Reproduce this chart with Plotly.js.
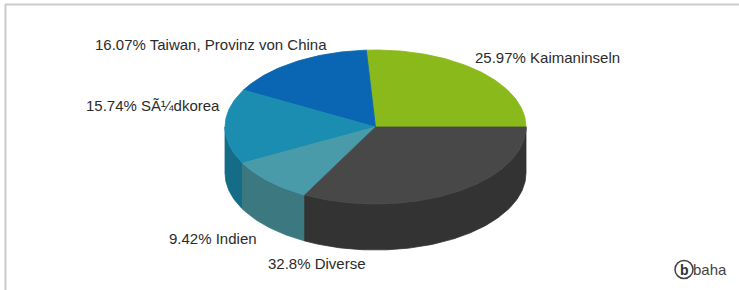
<!DOCTYPE html>
<html><head><meta charset="utf-8">
<script src="https://cdn.plot.ly/plotly-3.0.1.min.js"></script>
<style>html,body{margin:0;padding:0;background:#fff;overflow:hidden}#chart{width:739px;height:290px}</style>
</head><body><div id="chart"></div><script>
// ---- data ----
const categories = ['Kaimaninseln', 'Taiwan, Provinz von China', 'S\u00C3\u00BCdkorea', 'Indien', 'Diverse'];
const shares = [25.97, 16.07, 15.74, 9.42, 32.8];
const topColors = ['#8ab91c', '#0a66b2', '#1a8db0', '#4a9ba9', '#484848'];
const sideColors = ['#6a8f14', '#084e88', '#146c87', '#3b7880', '#333333'];

// ---- geometry / style (not data) ----
const PIE = {cx: 375.5, cy: 127, rx: 150.5, ry: 77, depth: 46};
const labelPos = [
  {x: 473, y: 57.5, anchor: 'left'},
  {x: 329, y: 44, anchor: 'right'},
  {x: 222, y: 105, anchor: 'right'},
  {x: 259, y: 238.5, anchor: 'right'},
  {x: 368, y: 263.5, anchor: 'right'}
];

function pt(deg, dy) {
  const r = deg * Math.PI / 180;
  return [PIE.cx + PIE.rx * Math.cos(r), PIE.cy - PIE.ry * Math.sin(r) + (dy || 0)];
}
function arc(a0, a1, dy) {
  const n = Math.max(2, Math.ceil(Math.abs(a1 - a0)));
  const out = [];
  for (let k = 0; k <= n; k++) out.push(pt(a0 + (a1 - a0) * k / n, dy));
  return out;
}

const total = shares.reduce((a, b) => a + b, 0);
const slices = [];
let acc = 0;
shares.forEach((v, i) => {
  const a0 = acc / total * 360;
  acc += v;
  const a1 = acc / total * 360;
  slices.push({a0, a1, i});
});

const traces = [];
// sides (front half only: 180..360)
slices.forEach(s => {
  const s0 = Math.max(s.a0, 180), s1 = Math.min(s.a1, 360);
  if (s1 <= s0) return;
  const top = arc(s0, s1, 0);
  const bot = arc(s1, s0, PIE.depth);
  const pts = top.concat(bot);
  pts.push(pts[0]);
  traces.push({
    type: 'scatter', mode: 'lines', fill: 'toself',
    x: pts.map(p => p[0]), y: pts.map(p => p[1]),
    fillcolor: sideColors[s.i], line: {color: sideColors[s.i], width: 0.8},
    hoverinfo: 'skip', showlegend: false
  });
});
// tops
slices.forEach(s => {
  const pts = [[PIE.cx, PIE.cy]].concat(arc(s.a0, s.a1, 0));
  pts.push([PIE.cx, PIE.cy]);
  traces.push({
    type: 'scatter', mode: 'lines', fill: 'toself',
    x: pts.map(p => p[0]), y: pts.map(p => p[1]),
    fillcolor: topColors[s.i], line: {color: topColors[s.i], width: 0.8},
    hoverinfo: 'skip', showlegend: false
  });
});

const annotations = categories.map((c, i) => ({
  x: labelPos[i].x, y: labelPos[i].y, xref: 'x', yref: 'y',
  xanchor: labelPos[i].anchor, yanchor: 'middle', showarrow: false,
  text: shares[i] + '% ' + c,
  font: {family: 'Liberation Sans, Arial, sans-serif', size: 15, color: '#2b2b2b'}
}));
annotations.push({x: 684, y: 269.5, xref: 'x', yref: 'y', showarrow: false, xanchor: 'center', yanchor: 'middle',
  text: '<b>b</b>', font: {family: 'Liberation Sans, Arial, sans-serif', size: 14, color: '#333'}});
annotations.push({x: 691, y: 269.5, xref: 'x', yref: 'y', showarrow: false, xanchor: 'left', yanchor: 'middle',
  text: 'baha', font: {family: 'Liberation Sans, Arial, sans-serif', size: 15, color: '#444'}});

const layout = {
  width: 739, height: 290,
  margin: {l: 0, r: 0, t: 0, b: 0, pad: 0},
  paper_bgcolor: '#fff', plot_bgcolor: '#fff',
  xaxis: {range: [0, 739], visible: false, fixedrange: true},
  yaxis: {range: [290, 0], visible: false, fixedrange: true},
  showlegend: false,
  annotations: annotations,
  shapes: [
    {type: 'line', xref: 'x', yref: 'y', x0: 5, x1: 739, y0: 4.5, y1: 4.5, line: {color: '#cbcbcb', width: 2}},
    {type: 'line', xref: 'x', yref: 'y', x0: 5.5, x1: 5.5, y0: 4, y1: 290, line: {color: '#cbcbcb', width: 2}},
    {type: 'circle', xref: 'x', yref: 'y', x0: 675, x1: 693, y0: 260.5, y1: 278.5, line: {color: '#444', width: 1.5}}
  ]
};
Plotly.newPlot('chart', traces, layout, {displayModeBar: false, staticPlot: true});
</script></body></html>
